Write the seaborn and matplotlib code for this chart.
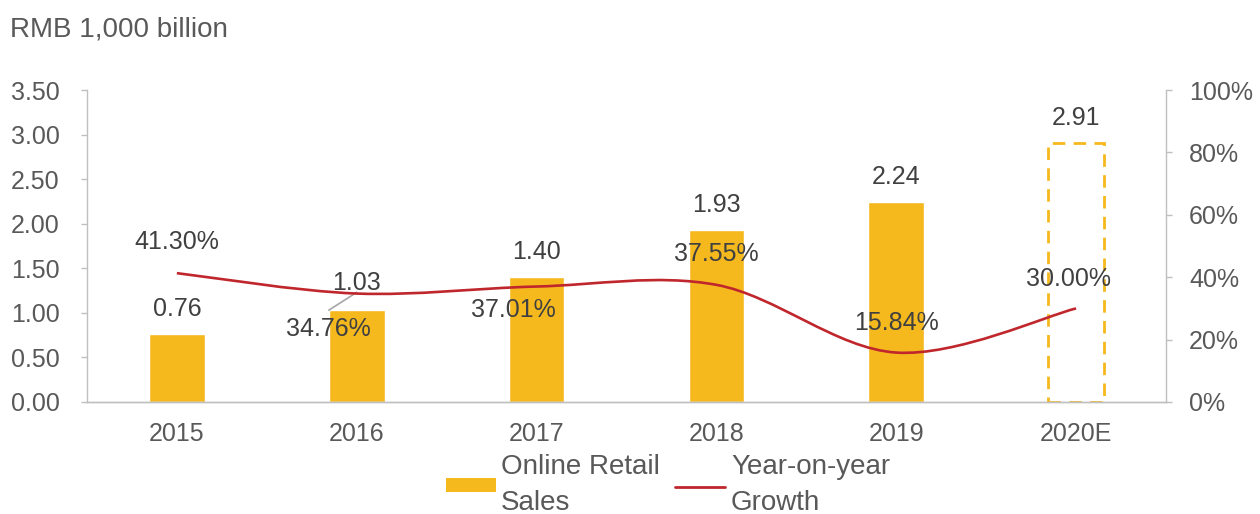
import matplotlib
matplotlib.use("Agg")
import matplotlib.pyplot as plt
import seaborn as sns
import pandas as pd
import numpy as np
from matplotlib.path import Path
from matplotlib.patches import PathPatch, Patch
from matplotlib.lines import Line2D
from matplotlib.ticker import FuncFormatter

# data
years = ['2015', '2016', '2017', '2018', '2019', '2020E']
sales = [0.76, 1.03, 1.40, 1.93, 2.24, 2.91]
growth = [41.30, 34.76, 37.01, 37.55, 15.84, 30.00]

gold = '#F5B91E'
red = '#C0272D'
grey_txt = '#404040'
tick_col = '#595959'
fs = 18     # numbers
fs_txt = 20  # title / legend

sns.set_theme(style='white')
plt.rcParams['font.family'] = ['Liberation Sans', 'DejaVu Sans']

df = pd.DataFrame({'year': years, 'sales': sales, 'growth': growth})

fig = plt.figure(figsize=(12.6, 5.14), dpi=100)
ax = fig.add_axes([0.0690, 0.2179, 0.8564, 0.607])

sns.barplot(data=df, x='year', y='sales', color=gold, saturation=1, width=0.31, ax=ax)

# forecast bar is drawn as a dashed outline
last = ax.patches[-1]
last.set_facecolor('none')
last.set_edgecolor(gold)
last.set_linestyle((0, (4.5, 3)))
last.set_linewidth(2)

ax.set_xlim(-0.5, 5.5)
ax.set_ylim(0, 3.5)
ax.set_yticks(np.arange(0, 3.51, 0.5))
ax.yaxis.set_major_formatter(FuncFormatter(lambda v, p: f'{v:.2f}'))
ax.set_xlabel('')
ax.set_ylabel('')

ax2 = ax.twinx()
ax2.set_ylim(0, 1)
ax2.set_yticks(np.arange(0, 1.01, 0.2))
ax2.yaxis.set_major_formatter(FuncFormatter(lambda v, p: f'{v*100:.0f}%'))

# smoothed growth line (cubic bezier through the data points)
xs = np.arange(len(growth), dtype=float)
ys = np.array(growth) / 100
pts = np.column_stack([xs, ys])
verts = [pts[0]]
codes = [Path.MOVETO]
for i in range(len(pts) - 1):
    p0 = pts[i - 1] if i > 0 else pts[i]
    p3 = pts[i + 2] if i + 2 < len(pts) else pts[i + 1]
    c1 = pts[i] + (pts[i + 1] - p0) / 6
    c2 = pts[i + 1] - (p3 - pts[i]) / 6
    verts += [c1, c2, pts[i + 1]]
    codes += [Path.CURVE4] * 3
ax2.add_patch(PathPatch(Path(verts, codes), facecolor='none', edgecolor=red, lw=1.9, zorder=3))

for a in (ax, ax2):
    for s in a.spines.values():
        s.set_color('#BFBFBF')
        s.set_linewidth(1)
    a.spines['top'].set_visible(False)
    a.tick_params(axis='both', labelsize=fs, colors='#BFBFBF', labelcolor=tick_col, length=4.5, width=1)
    a.grid(False)
ax.tick_params(axis='x', length=0, pad=14.5)
ax.tick_params(axis='y', pad=15)
ax2.tick_params(axis='y', pad=12)
ax2.spines['left'].set_visible(False)
ax.spines['right'].set_visible(False)

# bar value labels
for i, v in enumerate(sales):
    if i == 1:
        continue
    ax.text(i, v + 0.28, f'{v:.2f}', ha='center', va='center', fontsize=fs, color=grey_txt)
ax.text(1, sales[1] + 0.3, f'{sales[1]:.2f}', ha='center', va='center', fontsize=fs, color=grey_txt)
# leader line from the 2016 bar to its moved label
ax.plot([1 - 0.155, 1.0], [sales[1], sales[1] + 0.2], color='#A6A6A6', lw=1.2, zorder=4)

# growth labels
gl_pos = [(0, 0.10), (-0.155, -0.113), (-0.13, -0.075), (0, 0.10), (0, 0.095), (-0.04, 0.095)]
for i, g in enumerate(growth):
    dx, dy = gl_pos[i]
    ax2.text(i + dx, g / 100 + dy, f'{g:.2f}%', ha='center', va='center', fontsize=fs, color=grey_txt)

fig.text(0.008, 1 - 29 / 514, 'RMB 1,000 billion', fontsize=fs_txt, color=tick_col, va='center', ha='left')

handles = [Patch(facecolor=gold, edgecolor='none'),
           Line2D([0], [0], color=red, lw=2)]
leg = fig.legend(handles, ['Online Retail\nSales', 'Year-on-year\nGrowth'], loc='center',
                 bbox_to_anchor=(0.530, 1 - 485 / 514), ncol=2, frameon=False, fontsize=fs_txt,
                 labelcolor=tick_col, handlelength=1.8, handleheight=0.4, handletextpad=0.2,
                 columnspacing=0.55)
for t in leg.get_texts():
    t.set_linespacing(1.45)

fig.savefig('out.png', dpi=100)
